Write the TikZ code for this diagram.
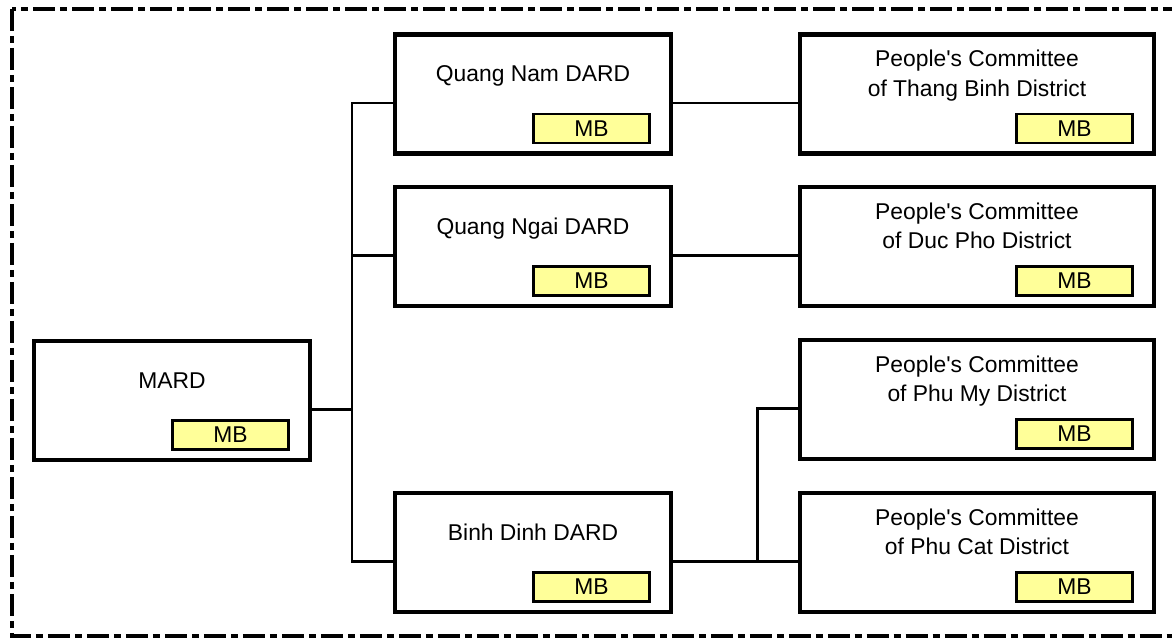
\documentclass[tikz,border=0pt]{standalone}
\usepackage{fontspec}
\setmainfont{Liberation Sans}[Ligatures=TeXOff]
\usepackage{tikz}
\usetikzlibrary{positioning}

\definecolor{mbyellow}{RGB}{255,255,153}

\begin{document}
\begin{tikzpicture}[x=0.02cm,y=-0.02cm,
        every node/.style={font=\fontsize{13}{17}\selectfont},
        orgbox/.style={draw,line width=2.45pt,minimum width=5.52cm,minimum height=2.38cm,inner sep=0pt,outer sep=0pt},
        pcbox/.style={orgbox,minimum width=7.08cm},
        mbbox/.style={draw,line width=1.4pt,fill=mbyellow,minimum width=2.32cm,minimum height=0.58cm,inner sep=0pt,outer sep=0pt},
        title/.style={align=center,anchor=north,text height=9.4pt,text depth=0pt,inner sep=0pt},
        wire/.style={line width=1.7pt},
        frame/.style={line width=2.7pt,dash pattern=on 0.44cm off 0.1cm on 0.14cm off 0.1cm}]
        \useasboundingbox (0,0) rectangle (1172,639);
        \clip (0,0) rectangle (1172,639);

        % dashed outer frame (right side runs off the page)
        \draw[frame] (12,9) rectangle (1200,636);

        % ministry and departments
        \node[orgbox] (mard) at (172,400.5) {};
        \node[orgbox] (qnam) at (533,94) {};
        \node[orgbox] (qngai) at (533,246.5) {};
        \node[orgbox] (bdinh) at (533,552.5) {};

        % district committees
        \node[pcbox] (tbinh) at (977,94) {};
        \node[pcbox] (dpho) at (977,246.5) {};
        \node[pcbox] (pmy) at (977,399.5) {};
        \node[pcbox] (pcat) at (977,552.5) {};

        % titles (anchored at the cap top of the last line)
        \node[title] (mardT) at ([yshift=-0.62cm]mard.north) {MARD};
        \node[title] (qnamT) at ([yshift=-0.61cm]qnam.north) {Quang Nam DARD};
        \node[title] (qngaiT) at ([yshift=-0.61cm]qngai.north) {Quang Ngai DARD};
        \node[title] (bdinhT) at ([yshift=-0.61cm]bdinh.north) {Binh Dinh DARD};
        \node[title] (tbinhT) at ([yshift=-0.9cm]tbinh.north) {People's Committee\\of Thang Binh District};
        \node[title] (dphoT) at ([yshift=-0.9cm]dpho.north) {People's Committee\\of Duc Pho District};
        \node[title] (pmyT) at ([yshift=-0.9cm]pmy.north) {People's Committee\\of Phu My District};
        \node[title] (pcatT) at ([yshift=-0.9cm]pcat.north) {People's Committee\\of Phu Cat District};

        % MB tags
        \foreach \b in {mard,qnam,qngai,bdinh,tbinh,dpho,pmy,pcat}
            \node[mbbox,anchor=south east] (\b MB) at ([xshift=-0.43cm,yshift=0.21cm]\b.south east) {MB};

        % connection points
        \coordinate (busL) at (352,0);
        \coordinate (busR) at (757,0);
        \coordinate (mardE) at ([yshift=-0.18cm]mard.east);
        \coordinate (qnamW) at ([yshift=-0.18cm]qnam.west);
        \coordinate (qngaiW) at ([yshift=-0.18cm]qngai.west);
        \coordinate (bdinhW) at ([yshift=-0.18cm]bdinh.west);
        \coordinate (qnamE) at ([yshift=-0.18cm]qnam.east);
        \coordinate (qngaiE) at ([yshift=-0.18cm]qngai.east);
        \coordinate (bdinhE) at ([yshift=-0.18cm]bdinh.east);
        \coordinate (tbinhW) at ([yshift=-0.18cm]tbinh.west);
        \coordinate (dphoW) at ([yshift=-0.18cm]dpho.west);
        \coordinate (pmyW) at ([yshift=-0.18cm]pmy.west);
        \coordinate (pcatW) at ([yshift=-0.18cm]pcat.west);

        % connectors
        \draw[wire] (qnamW) -| (busL |- bdinhW) -- (bdinhW);
        \draw[wire] (qngaiW) -- (busL |- qngaiW);
        \draw[wire] (mardE) -- (busL |- mardE);
        \draw[wire] (qnamE) -- (tbinhW);
        \draw[wire] (qngaiE) -- (dphoW);
        \draw[wire] (bdinhE) -- (pcatW);
        \draw[wire] (busR |- bdinhE) |- (pmyW);
    \end{tikzpicture}
\end{document}
